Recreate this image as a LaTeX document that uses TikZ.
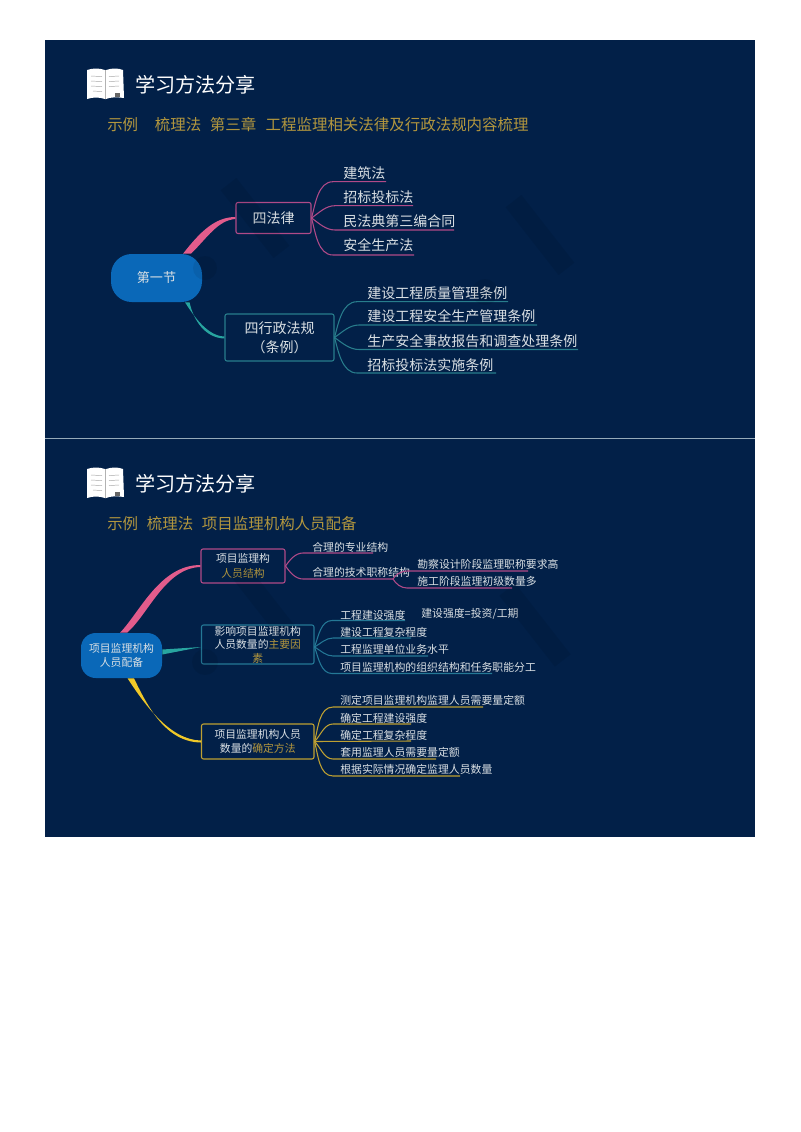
\documentclass[tikz,border=0pt]{standalone}
\usepackage{fontspec}
\setmainfont{Noto Sans CJK SC}
\usetikzlibrary{calc}
\definecolor{navy}{RGB}{2,32,72}
\definecolor{divid}{RGB}{150,170,185}
\definecolor{tyel}{RGB}{178,150,62}
\definecolor{twht}{RGB}{218,224,228}
\definecolor{cblue}{RGB}{10,104,184}
\definecolor{pinkthick}{RGB}{226,92,140}
\definecolor{pinkthin}{RGB}{176,74,136}
\definecolor{tealthick}{RGB}{40,165,160}
\definecolor{tealthin}{RGB}{40,125,140}
\definecolor{bluethin}{RGB}{36,120,150}
\definecolor{yelthick}{RGB}{240,200,40}
\definecolor{yelthin}{RGB}{190,160,50}
\newcommand\fsz[1]{\fontsize{#1}{#1}\selectfont}
\tikzset{
  x=0.75pt,y=-0.75pt,
  titletext/.style={anchor=west,inner sep=0pt,text=white,font=\fsz{15.1}},
  subtext/.style={anchor=west,inner sep=0pt,text=tyel,font=\fsz{11.6}},
  bigleaf/.style={anchor=west,inner sep=0pt,text=twht,font=\fsz{10.5}},
  smallleaf/.style={anchor=west,inner sep=0pt,text=twht,font=\fsz{8.15}},
  hub/.style={fill=cblue,inner sep=0pt,align=center,text=twht},
  catbox/.style={draw,line width=0.8pt,rounded corners=1.5pt,inner sep=0pt,align=center,text=twht},
  pinkl/.style={draw=pinkthin,line width=0.8pt},
  teall/.style={draw=tealthin,line width=0.8pt},
  bluel/.style={draw=bluethin,line width=0.8pt},
  yell/.style={draw=yelthin,line width=0.8pt},
  wm/.style={fill=black,opacity=0.07}
}
% name, from-node anchor, out angle, line style, text pos, underline y, start x, end x, text
\newcommand\lf[9]{%
  \coordinate (#1s) at (#7,#6);
  \coordinate (#1e) at (#8,#6);
  \draw[#4] (#2) to[out=#3,in=180,looseness=0.9] (#1s) -- (#1e);
  \node[\lfstyle] (#1) at (#5) {#9};
}
\newcommand\book[2]{%
  \begin{scope}[shift={(#1,#2)}]
    \fill[white] (0,2) .. controls (6,0) and (12,0) .. (18,2) -- (19,2)
       .. controls (25,0) and (31,0) .. (36,2) -- (37,30) .. controls (30,29) and (24,29) .. (19,31)
       -- (18,31) .. controls (12,29) and (6,29) .. (0,31) -- cycle;
    \draw[gray!60,line width=0.4pt] (18.5,2) -- (18.5,31);
    \foreach \yy in {8,13,18}{
      \draw[gray!70,line width=0.35pt] (4,\yy) -- (15,\yy+0.6);
      \draw[gray!70,line width=0.35pt] (22,\yy+0.6) -- (32,\yy);
    }
    \draw[gray!70,line width=0.35pt] (6,23) -- (15,23.6);
    \fill[black!60] (28,25) rectangle (33,29);
  \end{scope}
}
\begin{document}
\begin{tikzpicture}
\useasboundingbox (0,0) rectangle (800,1132);
\fill[white] (0,0) rectangle (800,1132);
\fill[navy] (45,40) rectangle (755,837);
\draw[divid,line width=0.7pt] (45,438) -- (755,438);

% ---------- slide 1 ----------
\book{87}{68}
\node[titletext] (t1) at (135,85) {学习方法分享};
\node[subtext] (s1) at (107,125) {示例\hspace{12.5pt}梳理法\hspace{6.5pt}第三章\hspace{7pt}工程监理相关法律及行政法规内容梳理};

\node[hub,minimum width=68.25pt,minimum height=36pt,font=\fsz{9.8},rounded corners=15.5pt] (c1) at (156.5,278) {第一节};
\node[catbox,draw=pinkthin,minimum width=56.25pt,minimum height=23.25pt,font=\fsz{10.5}] (b1) at (273.5,218) {四法律};
\node[catbox,draw=tealthin,minimum width=81.75pt,minimum height=35.25pt,font=\fsz{10.5}] (b2) at (279.5,337.5) {四行政法规\\[3.5pt]（条例）};

\coordinate (c1a) at ($(c1.north)+(26.5,0)$);
\coordinate (c1b) at ($(c1.north)+(34.5,0)$);
\coordinate (b1a) at ($(b1.west)+(0,-1)$);
\coordinate (b1b) at ($(b1.west)+(0,1)$);
\fill[pinkthick] (c1a) .. controls (200,232) and (215,217) .. (b1a) -- (b1b)
  .. controls (218,220) and (207,238) .. (c1b) -- cycle;
\coordinate (c1c) at ($(c1.south)+(28.5,0)$);
\coordinate (c1d) at ($(c1.south)+(33,0)$);
\coordinate (b2a) at ($(b2.west)+(0,-1)$);
\coordinate (b2b) at ($(b2.west)+(0,1)$);
\fill[tealthick] (c1c) .. controls (195,318) and (208,336) .. (b2a) -- (b2b)
  .. controls (206,338) and (194,322) .. (c1d) -- cycle;

\def\lfstyle{bigleaf}
\lf{a1}{b1.east}{75}{pinkl}{343,173}{181.7}{333}{386}{建筑法}
\lf{a2}{b1.east}{35}{pinkl}{343,197}{205.7}{335}{413}{招标投标法}
\lf{a3}{b1.east}{-35}{pinkl}{343,221}{230}{335}{454}{民法典第三编合同}
\lf{a4}{b1.east}{-75}{pinkl}{343,245}{255}{333}{414}{安全生产法}
\lf{d1}{b2.east}{75}{teall}{367,292.7}{301.7}{357}{508}{建设工程质量管理条例}
\lf{d2}{b2.east}{35}{teall}{367,316.6}{325}{359}{537}{建设工程安全生产管理条例}
\lf{d3}{b2.east}{-35}{teall}{367,341}{349.5}{359}{578}{生产安全事故报告和调查处理条例}
\lf{d4}{b2.east}{-75}{teall}{367,365}{373}{357}{496}{招标投标法实施条例}

% ---------- slide 2 ----------
\book{87}{467}
\node[titletext] (t2) at (135,484) {学习方法分享};
\node[subtext] (s2) at (107,524) {示例\hspace{6.5pt}梳理法\hspace{6.5pt}项目监理机构人员配备};

\node[hub,minimum width=60.75pt,minimum height=33.75pt,font=\fsz{8.1},rounded corners=11pt] (c2) at (121.5,655.5) {项目监理机构\\[3pt]人员配备};
\node[catbox,draw=pinkthin,minimum width=63pt,minimum height=25.5pt,font=\fsz{8.1}] (e1) at (243,566) {项目监理构\\[3pt]\textcolor{tyel}{人员结构}};
\node[catbox,draw=bluethin,minimum width=84.4pt,minimum height=29.25pt,font=\fsz{8.1}] (e2) at (257.75,644.5) {影响项目监理机构\\[2pt]人员数量的\textcolor{tyel}{主要因}\\[2pt]\textcolor{tyel}{素}};
\node[catbox,draw=yelthin,minimum width=84.4pt,minimum height=26.25pt,font=\fsz{8.1}] (e3) at (257.75,741.5) {项目监理机构人员\\[3pt]数量的\textcolor{tyel}{确定方法}};

\coordinate (p1) at ($(c2.north)+(-1.5,0)$);
\coordinate (p2) at ($(c2.north)+(5.5,0)$);
\coordinate (e1a) at ($(e1.west)+(0,-1)$);
\coordinate (e1b) at ($(e1.west)+(0,1)$);
\fill[pinkthick] (p1) .. controls (140,612) and (160,565) .. (e1a) -- (e1b)
  .. controls (165,568) and (148,615) .. (p2) -- cycle;
\coordinate (q1) at ($(c2.east)+(0,-6)$);
\coordinate (q2) at ($(c2.east)+(0,-1)$);
\coordinate (e2w) at ($(e2.west)+(0,2.5)$);
\fill[tealthick] (q1) -- (e2w) -- (q2) -- cycle;
\coordinate (y1) at ($(c2.south)+(6,0)$);
\coordinate (y2) at ($(c2.south)+(12.5,0)$);
\coordinate (e3a) at ($(e3.west)+(0,-1)$);
\coordinate (e3b) at ($(e3.west)+(0,1)$);
\fill[yelthick] (y1) .. controls (145,705) and (170,740) .. (e3a) -- (e3b)
  .. controls (168,742) and (150,712) .. (y2) -- cycle;

\def\lfstyle{smallleaf}
\lf{f1}{e1.east}{55}{pinkl}{312,547}{553}{303}{373}{合理的专业结构}
\lf{f2}{e1.east}{-55}{pinkl}{312,572}{579}{303}{393}{合理的技术职称结构}
\lf{g1}{f2e}{60}{pinkl}{417,564}{571}{407}{528}{勘察设计阶段监理职称要求高}
\lf{g2}{f2e}{-60}{pinkl}{417,581}{588}{407}{512}{施工阶段监理初级数量多}

\coordinate (e2o) at ($(e2.east)+(0,2.5)$);
\lf{h1}{e2o}{70}{bluel}{340,615}{620.5}{332}{405}{工程建设强度}
\node[smallleaf] (h0) at (421,614) {建设强度=投资/工期};
\lf{h2}{e2o}{30}{bluel}{340,632}{638}{333}{411}{建设工程复杂程度}
\lf{h3}{e2o}{-30}{bluel}{340,649}{656}{333}{428}{工程监理单位业务水平}
\lf{h4}{e2o}{-70}{bluel}{340,667}{673.5}{332}{492}{项目监理机构的组织结构和任务职能分工}

\lf{k1}{e3.east}{75}{yell}{340,700}{707}{333}{483}{测定项目监理机构监理人员需要量定额}
\lf{k2}{e3.east}{45}{yell}{340,718}{724}{333}{411}{确定工程建设强度}
\coordinate (k3s) at (411,741);
\draw[yell] (e3.east) -- (k3s);
\node[smallleaf] (k3) at (340,735) {确定工程复杂程度};
\lf{k4}{e3.east}{-45}{yell}{340,752}{759}{333}{436}{套用监理人员需要量定额}
\lf{k5}{e3.east}{-75}{yell}{340,769}{776}{333}{460}{根据实际情况确定监理人员数量}

% ---------- faint watermarks ----------
\fill[wm] (205,268) circle (12);
\fill[wm,rotate around={-52:(255,218)}] (212,208) rectangle (298,228);
\fill[wm] (485,292) circle (13);
\fill[wm,rotate around={-52:(540,235)}] (497,225) rectangle (583,245);
\fill[wm] (205,662) circle (13);
\fill[wm,rotate around={-52:(262,600)}] (222,590) rectangle (302,610);
\fill[wm,rotate around={-52:(535,625)}] (490,615) rectangle (580,635);
\end{tikzpicture}
\end{document}
